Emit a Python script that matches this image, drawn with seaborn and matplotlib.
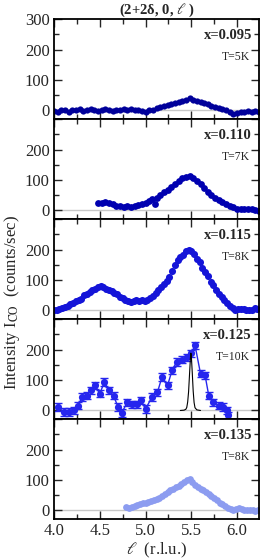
"""
Stacked scans along (2+2d, 0, l) for five dopings.
"""

import numpy as np
import matplotlib
matplotlib.use("Agg")
import matplotlib.pyplot as plt
from matplotlib.ticker import MultipleLocator
import seaborn as sns

# ---- data ----
dopings = ["x=0.095", "x=0.110", "x=0.115", "x=0.125", "x=0.135"]
temps = ["T=5K", "T=7K", "T=8K", "T=10K", "T=8K"]
colors = ["#00009A", "#0000B0", "#1414D8", "#2626EE", "#8C9CF0"]

l_095 = [4.00, 4.04, 4.08, 4.12, 4.16, 4.20, 4.24, 4.28, 4.32, 4.36, 4.40, 4.44,
         4.48, 4.52, 4.56, 4.60, 4.64, 4.68, 4.72, 4.76, 4.80, 4.84, 4.88, 4.92,
         4.96, 5.00, 5.04, 5.08, 5.12, 5.16, 5.20, 5.24, 5.28, 5.32, 5.36, 5.40,
         5.44, 5.48, 5.52, 5.56, 5.60, 5.64, 5.68, 5.72, 5.76, 5.80, 5.84, 5.88,
         5.92, 5.96, 6.00, 6.04, 6.08, 6.12, 6.16, 6.20, 6.24]
I_095 = [-3, -5, 2, 0, -4, 3, 2, 4, -2, 1, 5, 0,
         -3, 3, 6, 0, -2, 2, 0, 4, 2, 5, 0, 3,
         -2, -4, 2, 0, 8, 12, 15, 18, 22, 25, 28, 30,
         34, 42, 36, 30, 28, 25, 20, 16, 12, 8, 6, 2,
         -5, -12, -8, -4, -6, -3, -5, -2, -4]

l_110 = [4.48, 4.52, 4.56, 4.60, 4.64, 4.68, 4.72, 4.76, 4.80, 4.84, 4.88, 4.92,
         4.96, 5.00, 5.04, 5.07, 5.10, 5.13, 5.16, 5.20, 5.24, 5.28, 5.32, 5.36,
         5.40, 5.44, 5.48, 5.52, 5.56, 5.60, 5.64, 5.68, 5.72, 5.76, 5.80, 5.84,
         5.88, 5.92, 5.96, 6.00, 6.04, 6.08, 6.12, 6.16, 6.20, 6.24]
I_110 = [24, 25, 27, 24, 20, 16, 14, 13, 14, 13, 16, 19,
         22, 25, 32, 38, 22, 42, 52, 62, 68, 76, 86, 98,
         105, 110, 113, 108, 98, 86, 74, 62, 52, 42, 35, 28,
         22, 16, 10, 6, 4, 5, 6, 4, 2, -2]

l_115 = [4.00, 4.03, 4.06, 4.09, 4.12, 4.15, 4.18, 4.21, 4.24, 4.27, 4.30, 4.33,
         4.36, 4.39, 4.42, 4.45, 4.48, 4.51, 4.54, 4.57, 4.60, 4.63, 4.66, 4.69,
         4.72, 4.75, 4.78, 4.81, 4.84, 4.87, 4.90, 4.93, 4.96, 4.99, 5.02, 5.05,
         5.08, 5.11, 5.14, 5.17, 5.20, 5.23, 5.26, 5.29, 5.32, 5.35, 5.38, 5.41,
         5.44, 5.47, 5.50, 5.53, 5.56, 5.59, 5.62, 5.65, 5.68, 5.71, 5.74, 5.77,
         5.80, 5.83, 5.86, 5.89, 5.92, 5.95, 5.98, 6.01, 6.04, 6.07, 6.10, 6.13,
         6.16, 6.19, 6.22]
I_115 = [2, 3, 5, 8, 12, 15, 20, 26, 30, 35, 38, 50,
         55, 60, 66, 70, 76, 80, 77, 72, 68, 63, 58, 54,
         45, 40, 36, 30, 28, 32, 34, 30, 33, 32, 35, 40,
         48, 58, 68, 78, 88, 98, 110, 130, 148, 165, 175, 182,
         195, 200, 194, 185, 168, 158, 140, 125, 112, 95, 82, 68,
         55, 45, 35, 25, 15, 8, 2, 6, 5, 4, 0, 2,
         0, 8, 6]

l_125 = [4.04, 4.11, 4.16, 4.22, 4.26, 4.31, 4.36, 4.40, 4.45, 4.50, 4.55, 4.60,
         4.65, 4.70, 4.74, 4.80, 4.85, 4.91, 4.95, 5.00, 5.07, 5.13, 5.18, 5.24,
         5.29, 5.34, 5.40, 5.45, 5.50, 5.54, 5.60, 5.65, 5.69, 5.74, 5.80, 5.85,
         5.89, 5.90]
I_125 = [11, -5, -5, 0, 16, 44, 49, 66, 82, 55, 93, 66,
         49, 11, -8, 27, 20, 20, 33, 5, 44, 60, 110, 82,
         132, 159, 167, 174, 187, 214, 121, 115, 49, 27, 16, 11,
         0, -16]
err_125 = 12

# resolution profile drawn in the x=0.125 panel
l_res = [5.38, 5.42, 5.44, 5.45, 5.46, 5.47, 5.48, 5.49, 5.495, 5.50, 5.51,
         5.52, 5.53, 5.54, 5.56, 5.60]
I_res = [0, 1, 4, 10, 28, 62, 118, 172, 188, 178, 124, 64, 26, 9, 2, 0]

l_135 = [4.79, 4.82, 4.85, 4.88, 4.91, 4.94, 4.97, 5.00, 5.03, 5.06, 5.09, 5.12,
         5.15, 5.18, 5.21, 5.24, 5.27, 5.30, 5.33, 5.36, 5.39, 5.42, 5.45, 5.48,
         5.51, 5.54, 5.57, 5.60, 5.63, 5.66, 5.69, 5.72, 5.75, 5.78, 5.81, 5.84,
         5.87, 5.90, 5.93, 5.96, 5.99, 6.02, 6.05, 6.08, 6.11, 6.14, 6.17, 6.20,
         6.23]
I_135 = [10, 9, 12, 14, 18, 22, 25, 24, 28, 30, 34, 38,
         42, 48, 54, 60, 68, 72, 76, 80, 86, 92, 100, 102,
         92, 84, 78, 72, 66, 60, 55, 48, 42, 34, 26, 20,
         14, 8, 4, 0, 6, 8, 4, 3, 2, 0, 1, -2, 2]

scans = [(l_095, I_095), (l_110, I_110), (l_115, I_115), (l_125, I_125), (l_135, I_135)]
marker_sizes = [20, 24, 26, 0, 24]

sns.set_theme(style="ticks")
plt.rcParams['font.family'] = ['Liberation Serif', 'DejaVu Serif']
plt.rcParams['mathtext.fontset'] = 'stix'

fig, axes = plt.subplots(5, 1, figsize=(2.62, 5.6), dpi=100, sharex=True)
fig.subplots_adjust(left=0.206, right=0.989, bottom=0.0732, top=0.966, hspace=0)

for i, ax in enumerate(axes):
    l_vals, I_vals = scans[i]
    ax.axhline(0, color='#c8c8c8', lw=1.0, zorder=0)

    if i == 3:
        ax.plot(l_res, I_res, color='black', lw=0.8, zorder=3)
        ax.errorbar(l_125, I_125, yerr=err_125, fmt='none', ecolor=colors[i],
                    elinewidth=1.0, capsize=3, capthick=1.0, zorder=2)
        sns.lineplot(x=l_125, y=I_125, ax=ax, color=colors[i], lw=1.0,
                     marker='o', markersize=5.2, markeredgewidth=0, zorder=2)
    else:
        sns.scatterplot(x=l_vals, y=I_vals, ax=ax, color=colors[i],
                        s=marker_sizes[i], linewidth=0, zorder=2)

    ax.set_xlim(4.0, 6.24)
    ax.set_ylim(-28, 300)
    ax.set_yticks([0, 100, 200, 300])
    if i == 0:
        ax.set_yticklabels(['0', '100', '200', '300'])
    else:
        ax.set_yticklabels(['0', '100', '200', ''])
    ax.yaxis.set_minor_locator(MultipleLocator(50))
    ax.xaxis.set_major_locator(MultipleLocator(0.5))
    ax.xaxis.set_minor_locator(MultipleLocator(0.25))
    ax.tick_params(which='both', direction='in', top=True, right=True,
                   width=1.0, labelsize=12, pad=3)
    ax.tick_params(which='major', length=6)
    ax.tick_params(which='minor', length=3.5)
    for sp in ax.spines.values():
        sp.set_linewidth(1.3)
        sp.set_color('black')

    ax.text(0.965, 0.80, dopings[i], transform=ax.transAxes, ha='right',
            va='baseline', fontsize=10.5, fontweight='bold')
    ax.text(0.955, 0.59, temps[i], transform=ax.transAxes, ha='right',
            va='baseline', fontsize=8.5)

axes[-1].set_xticks([4.0, 4.5, 5.0, 5.5, 6.0])
axes[-1].set_xticklabels(['4.0', '4.5', '5.0', '5.5', '6.0'])
axes[-1].set_xlabel(r'$\ell$  (r.l.u.)', fontsize=12, labelpad=1)

axes[0].set_title(r'(2+2δ, 0, $\ell$ )', fontsize=10.5, fontweight='bold', pad=3)
fig.text(0.045, 0.46, r'Intensity I$_{\rm CO}$  (counts/sec)', rotation=90,
         ha='center', va='center', fontsize=12)

fig.savefig('out.png', dpi=100)
